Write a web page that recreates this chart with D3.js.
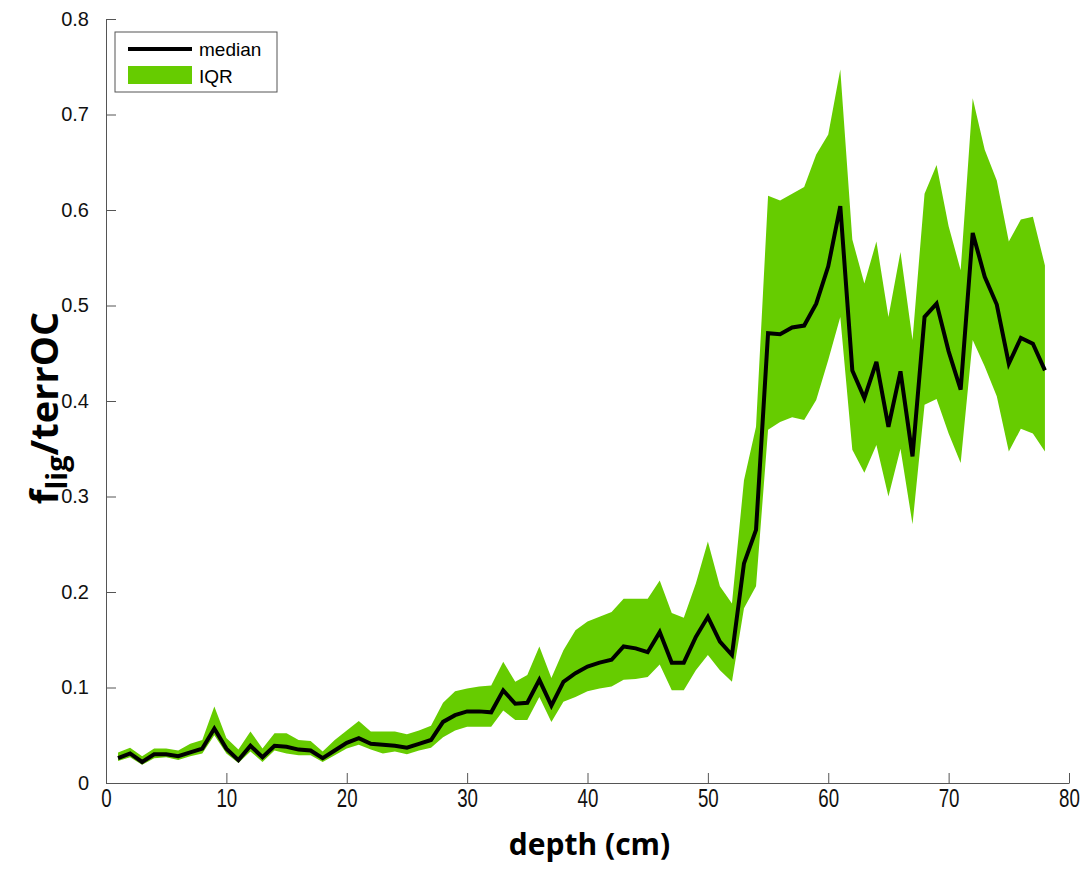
<!DOCTYPE html>
<meta charset="utf-8">
<style>
body { margin: 0; background: #fff; }
.axis path, .axis line { stroke: #555; }
.axis text { font-family: 'Liberation Sans', Arial, sans-serif; fill: #111; }
</style>
<body>
<div id="chart"></div>
<script src="https://d3js.org/d3.v7.min.js"></script>
<script>

// depth (cm) 1..78
var depth = [1,2,3,4,5,6,7,8,9,10,11,12,13,14,15,16,17,18,19,20,
    21,22,23,24,25,26,27,28,29,30,31,32,33,34,35,36,37,38,39,40,
    41,42,43,44,45,46,47,48,49,50,51,52,53,54,55,56,57,58,59,60,
    61,62,63,64,65,66,67,68,69,70,71,72,73,74,75,76,77,78];

var median = [0.026,0.031,0.022,0.030,0.030,0.028,0.032,0.036,0.057,0.036,
    0.024,0.039,0.027,0.039,0.038,0.035,0.034,0.026,0.034,0.042,
    0.047,0.041,0.040,0.039,0.037,0.041,0.045,0.064,0.071,0.075,
    0.075,0.074,0.097,0.083,0.084,0.108,0.081,0.106,0.115,0.122,
    0.126,0.129,0.143,0.141,0.137,0.158,0.126,0.126,0.153,0.174,
    0.148,0.134,0.230,0.265,0.471,0.470,0.477,0.479,0.502,0.541,
    0.604,0.432,0.403,0.441,0.373,0.431,0.342,0.488,0.502,0.452,
    0.412,0.576,0.530,0.501,0.439,0.466,0.460,0.432];

var q75 = [0.032,0.037,0.028,0.036,0.036,0.034,0.041,0.045,0.080,0.047,
    0.035,0.054,0.036,0.052,0.052,0.045,0.044,0.033,0.045,0.055,
    0.065,0.054,0.054,0.054,0.051,0.055,0.060,0.084,0.096,0.099,
    0.101,0.102,0.127,0.106,0.113,0.143,0.110,0.139,0.160,0.169,
    0.174,0.179,0.193,0.193,0.193,0.212,0.178,0.173,0.209,0.253,
    0.206,0.188,0.317,0.373,0.615,0.610,0.617,0.624,0.658,0.679,
    0.747,0.569,0.523,0.567,0.488,0.556,0.464,0.617,0.647,0.583,
    0.537,0.717,0.663,0.631,0.567,0.590,0.593,0.542];

var q25 = [0.023,0.027,0.019,0.026,0.027,0.024,0.028,0.031,0.050,0.031,
    0.021,0.033,0.022,0.034,0.031,0.029,0.029,0.022,0.029,0.036,
    0.040,0.035,0.031,0.033,0.030,0.034,0.037,0.048,0.055,0.059,
    0.059,0.059,0.076,0.066,0.066,0.090,0.064,0.085,0.090,0.096,
    0.099,0.101,0.108,0.109,0.111,0.124,0.097,0.097,0.118,0.134,
    0.118,0.106,0.183,0.206,0.370,0.378,0.383,0.380,0.401,0.443,
    0.488,0.349,0.325,0.354,0.300,0.350,0.271,0.396,0.402,0.366,
    0.335,0.464,0.436,0.405,0.347,0.371,0.366,0.347];

var xTicks = [0,10,20,30,40,50,60,70,80];
var yTicks = [0,0.1,0.2,0.3,0.4,0.5,0.6,0.7,0.8];

var width = 1086,
    height = 870,
    plotLeft = 106, plotRight = 1069, plotTop = 19, plotBottom = 783;

var svg = d3.select("#chart").append("svg")
    .attr("width", width)
    .attr("height", height);

var x = d3.scaleLinear().domain([0, 80]).range([plotLeft, plotRight]);
var y = d3.scaleLinear().domain([0, 0.8]).range([plotBottom, plotTop]);

var rows = depth.map(function(d, i) {
    return {d: d, m: median[i], lo: q25[i], hi: q75[i]};
});

// IQR band
var area = d3.area()
    .x(function(r) { return x(r.d); })
    .y0(function(r) { return y(r.lo); })
    .y1(function(r) { return y(r.hi); });

svg.append("path")
    .datum(rows)
    .attr("d", area)
    .attr("fill", "#66cc00");

// median line
var line = d3.line()
    .x(function(r) { return x(r.d); })
    .y(function(r) { return y(r.m); });

svg.append("path")
    .datum(rows)
    .attr("d", line)
    .attr("fill", "none")
    .attr("stroke", "#000")
    .attr("stroke-width", 4)
    .attr("stroke-linejoin", "miter");

// axes, ticks pointing inward like matlab
var xAxis = svg.append("g")
    .attr("class", "axis")
    .attr("transform", "translate(0," + plotBottom + ")")
    .call(d3.axisBottom(x).tickValues(xTicks).tickSizeInner(-10).tickSizeOuter(0).tickPadding(6));

// narrow look of the original labels
xAxis.selectAll("text")
    .style("font-size", "26px")
    .attr("transform", "scale(0.72,1)");

var yAxis = svg.append("g")
    .attr("class", "axis")
    .attr("transform", "translate(" + plotLeft + ",0)")
    .call(d3.axisLeft(y).tickValues(yTicks).tickSizeInner(-10).tickSizeOuter(0).tickPadding(17)
        .tickFormat(function(d) { return d === 0 ? "0" : d3.format(".1f")(d); }));

yAxis.selectAll("text").style("font-size", "20px");

// axis titles
svg.append("text")
    .attr("x", (plotLeft + plotRight) / 2 + 2)
    .attr("y", 855)
    .attr("text-anchor", "middle")
    .style("font-family", "'Open Sans', 'Liberation Sans', sans-serif")
    .style("font-weight", "bold")
    .style("font-size", "30px")
    .text("depth (cm)");

var yt = svg.append("text")
    .attr("transform", "translate(58,408) rotate(-90)")
    .attr("text-anchor", "middle")
    .style("font-family", "'Open Sans', 'Liberation Sans', sans-serif")
    .style("font-weight", "bold")
    .style("font-size", "38px");
yt.append("tspan").text("f");
yt.append("tspan").attr("dy", 9).style("font-size", "29px").text("lig");
yt.append("tspan").attr("dy", -9).text("/terrOC");

// legend
var lg = svg.append("g").attr("transform", "translate(115,32)");
lg.append("rect")
    .attr("width", 162).attr("height", 60)
    .attr("fill", "#fff").attr("stroke", "#555");
lg.append("line")
    .attr("x1", 13).attr("x2", 77).attr("y1", 17).attr("y2", 17)
    .attr("stroke", "#000").attr("stroke-width", 4);
lg.append("rect")
    .attr("x", 13).attr("y", 34).attr("width", 64).attr("height", 18)
    .attr("fill", "#66cc00");
lg.append("text").attr("x", 84).attr("y", 24)
    .style("font-family", "'Liberation Sans', Arial, sans-serif")
    .style("font-size", "19px").text("median");
lg.append("text").attr("x", 84).attr("y", 51)
    .style("font-family", "'Liberation Sans', Arial, sans-serif")
    .style("font-size", "19px").text("IQR");

</script>
</body>
